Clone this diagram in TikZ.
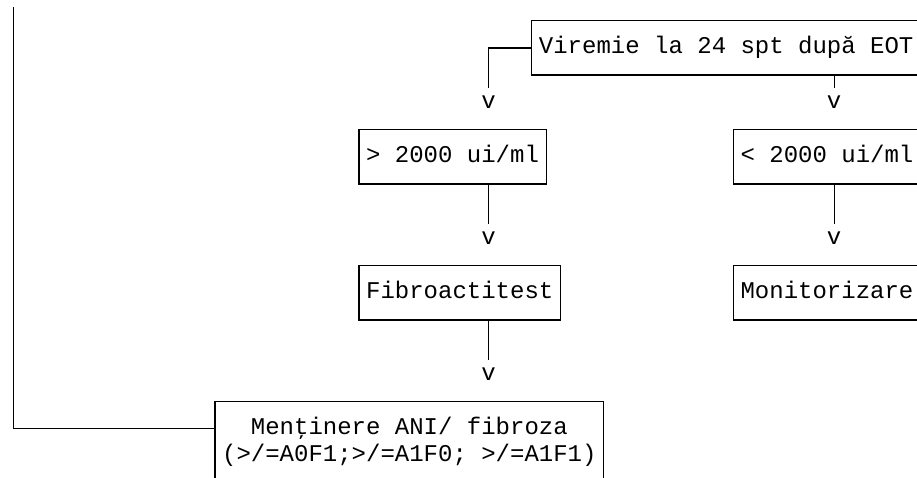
\documentclass[tikz,border=0pt]{standalone}
\usepackage{fontspec}
\setmonofont{Liberation Mono}
\newcommand\rs{\rule[-5.7pt]{0pt}{20.4pt}}
\tikzset{
  txt/.style={font=\fontsize{18pt}{20.4pt}\selectfont\ttfamily, inner sep=0pt},
  cell/.style={txt, text height=14.7pt, text depth=5.7pt},
  box/.style={draw, line width=1pt, minimum height=40.8pt},
  line/.style={draw, line width=1pt}
}
\begin{document}
\begin{tikzpicture}[x=10.8pt,y=-20.4pt]
\useasboundingbox (-0.924,-0.761) rectangle (62.75,16.81);
\clip (-0.924,-0.761) rectangle (62.75,16.81);
% boxes
\node[cell,box,minimum width=291.6pt] (top) at (49.5,1) {Viremie la 24 spt după EOT};
\node[cell,box,minimum width=140.4pt] (gt) at (30.5,5) {> 2000 ui/ml};
\node[cell,box,minimum width=140.4pt] (lt) at (56.5,5) {< 2000 ui/ml};
\node[cell,box,minimum width=151.2pt] (fib) at (31,10) {Fibroactitest};
\node[cell,box,minimum width=140.4pt] (mon) at (56.5,10) {Monitorizare};
\node[txt,box,align=center,minimum width=291.6pt,minimum height=61.2pt] (ani) at (27.5,15.5)
  {\rs Menţinere ANI/ fibroza\\\rs(>/=A0F1;>/=A1F0; >/=A1F1)};
% the v's
\node[cell] (v1) at (33,3) {v};
\node[cell] (v2) at (57,3) {v};
\node[cell] (v3) at (33,8) {v};
\node[cell] (v4) at (57,8) {v};
\node[cell] (v5) at (33,13) {v};
% lines
\coordinate (start) at (0,-0.5);
\coordinate (ani-in) at (14,15);
\path[line] (top.west) -| (v1.north);
\path[line] (top.south -| v2.north) -- (v2.north);
\path[line] (gt.south -| v3.north) -- (v3.north);
\path[line] (lt.south -| v4.north) -- (v4.north);
\path[line] (fib.south -| v5.north) -- (v5.north);
\path[line] (start) |- (ani-in);
\end{tikzpicture}
\end{document}
